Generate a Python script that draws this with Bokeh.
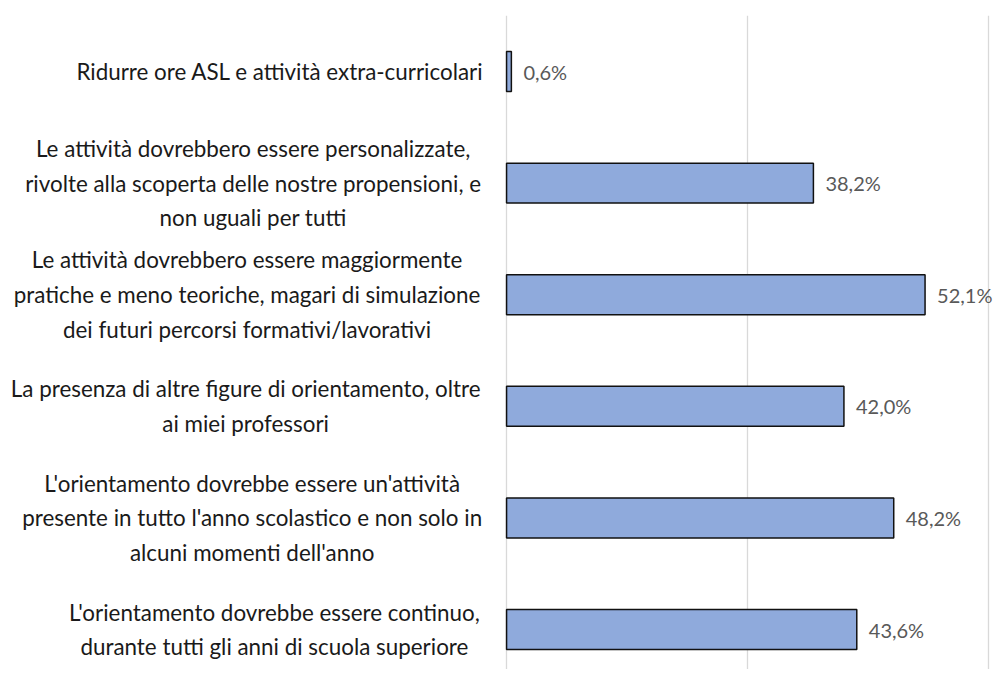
from bokeh.plotting import figure
from bokeh.models import ColumnDataSource, FixedTicker, Range1d
from bokeh.core.properties import value
from bokeh.embed import file_html
from bokeh.resources import INLINE

categories = [
    "Ridurre ore ASL e attività extra-curricolari",
    "Le attività dovrebbero essere personalizzate,\nrivolte alla scoperta delle nostre propensioni, e\nnon uguali per tutti",
    "Le attività dovrebbero essere maggiormente\npratiche e meno teoriche, magari di simulazione\ndei futuri percorsi formativi/lavorativi",
    "La presenza di altre figure di orientamento, oltre\nai miei professori",
    "L'orientamento dovrebbe essere un'attività\npresente in tutto l'anno scolastico e non solo in\nalcuni momenti dell'anno",
    "L'orientamento dovrebbe essere continuo,\ndurante tutti gli anni di scuola superiore",
]
values = [0.6, 38.2, 52.1, 42.0, 48.2, 43.6]
grid_ticks = [0, 30, 60]

FONT = "Lato"
FS_CAT = 22.4
FS_VAL = 20

# approximate glyph widths (em) used to centre each wrapped label block
_W = {" ": .226, "i": .229, "l": .229, "t": .335, "f": .305, "r": .349, "j": .25,
      ",": .25, "'": .22, "/": .386, "-": .306, "m": .813, "w": .715, "a": .479,
      "à": .479, "e": .498, "o": .527, "n": .525, "s": .391, "c": .423, "d": .525,
      "p": .525, "u": .525, "v": .452, "z": .395, "g": .471, "b": .525, "h": .525,
      "x": .433, "y": .453, "q": .525, "k": .455, "R": .543, "A": .579, "S": .459,
      "L": .42}


def text_w(s, px=24.0):
    return sum(_W.get(ch, .5) for ch in s) * px


n = len(categories)
ys = [n - 1 - i for i in range(n)]
labels = [f"{v:.1f}".replace(".", ",") + "%" for v in values]
maxw = [max(text_w(l) for l in c.split("\n")) for c in categories]
xoff = [-(24 + w / 2) for w in maxw]

src = ColumnDataSource(dict(y=ys, v=values, lab=labels, cat=categories,
                            zero=[0] * n, xoff=xoff))

p = figure(width=993, height=669, output_backend="svg", toolbar_location=None,
           x_range=Range1d(-63.0, 60.62), y_range=Range1d(-0.358, 5.502),
           min_border=0, min_border_left=0, min_border_right=0,
           min_border_top=15, min_border_bottom=0)
p.axis.visible = False
p.outline_line_color = None
p.ygrid.visible = False
p.xgrid.ticker = FixedTicker(ticks=grid_ticks)
p.xgrid.grid_line_color = "#D9D9D9"
p.xgrid.grid_line_width = 1.3

p.hbar(y="y", left="zero", right="v", height=0.358, source=src,
       fill_color="#8FAADC", line_color="#111111", line_width=1.5)

p.text(x="v", y="y", text="lab", source=src, x_offset=12,
       text_font=value(FONT), text_font_size=f"{FS_VAL}px", text_color="#595959",
       text_baseline="middle", text_align="left")

p.text(x="zero", y="y", text="cat", source=src, x_offset="xoff",
       text_font=value(FONT), text_font_size=f"{FS_CAT}px", text_color="#1a1a1a",
       text_baseline="middle", text_align="center", text_line_height=1.29)

open("out.html", "w").write(file_html(p, INLINE))
